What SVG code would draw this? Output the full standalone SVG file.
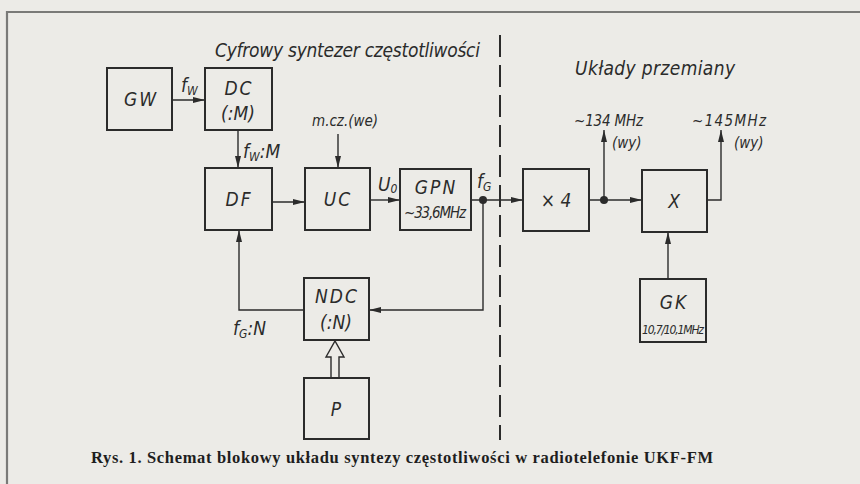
<svg xmlns="http://www.w3.org/2000/svg" width="860" height="484" viewBox="0 0 860 484">
<defs>
<style>
.bg{fill:#ecebe7}
.frame{fill:none;stroke:#7a7a78;stroke-width:2.2}
.box{fill:none;stroke:#2b2b2b;stroke-width:2}
.ln{fill:none;stroke:#2b2b2b;stroke-width:1.4}
.dash{fill:none;stroke:#2b2b2b;stroke-width:2;stroke-dasharray:22 8}
.t{font-family:"DejaVu Sans Condensed","DejaVu Sans",sans-serif;font-style:oblique;fill:#2b2b2b;font-size:19px}
.c{text-anchor:middle}
.sp{letter-spacing:2px}
.s{font-size:15px}
.xs{font-size:12px}
.sub{font-size:12px}
.cap{font-family:"Liberation Serif",serif;font-weight:bold;font-size:16.5px;fill:#1e1e1e}
</style>
<marker id="ah" viewBox="0 0 12 6" refX="12" refY="3" markerWidth="12" markerHeight="6" markerUnits="userSpaceOnUse" orient="auto">
<path d="M0,0 L12,3 L0,6 Z" fill="#2b2b2b"/>
</marker>
</defs>
<rect class="bg" x="0" y="0" width="860" height="484"/>
<path class="frame" d="M7,484 V12 H860"/>

<text class="t" x="215" y="57" font-size="19" textLength="265">Cyfrowy syntezer częstotliwości</text>
<text class="t" x="575" y="75" font-size="19" textLength="160">Układy przemiany</text>

<g id="connectors">
<line class="dash" x1="500" y1="35" x2="500" y2="440"/>
<line class="ln" x1="172" y1="100" x2="205" y2="100" marker-end="url(#ah)"/>
<line class="ln" x1="238" y1="130" x2="238" y2="168" marker-end="url(#ah)"/>
<line class="ln" x1="272" y1="202" x2="305" y2="202" marker-end="url(#ah)"/>
<line class="ln" x1="338" y1="134" x2="338" y2="168" marker-end="url(#ah)"/>
<line class="ln" x1="370" y1="200" x2="400" y2="200" marker-end="url(#ah)"/>
<line class="ln" x1="471" y1="200" x2="523" y2="200" marker-end="url(#ah)"/>
<circle cx="483" cy="200" r="4" fill="#2b2b2b"/>
<polyline class="ln" points="483,200 483,310 369,310" marker-end="url(#ah)"/>
<polyline class="ln" points="304,310 239,310 239,230" marker-end="url(#ah)"/>
<line class="ln" x1="589" y1="200" x2="642" y2="200" marker-end="url(#ah)"/>
<circle cx="604" cy="200" r="4" fill="#2b2b2b"/>
<line class="ln" x1="604" y1="200" x2="604" y2="130" marker-end="url(#ah)"/>
<polyline class="ln" points="707,200 721,200 721,130" marker-end="url(#ah)"/>
<line class="ln" x1="668" y1="279" x2="668" y2="232" marker-end="url(#ah)"/>
<path class="ln" d="M331,378 V357 H326 L335,341 L344,357 H339 V378" stroke-width="1.6"/>
</g>

<g id="GW"><rect class="box" x="107" y="68" width="65" height="62"/><text class="t c sp" x="141" y="106">GW</text></g>
<g id="DC"><rect class="box" x="205" y="68" width="67" height="62"/><text class="t c sp" x="239" y="95">DC</text><text class="t c" x="238" y="120">(:M)</text></g>
<g id="DF"><rect class="box" x="205" y="168" width="67" height="62"/><text class="t c sp" x="239" y="206">DF</text></g>
<g id="UC"><rect class="box" x="305" y="168" width="65" height="62"/><text class="t c sp" x="338" y="206">UC</text></g>
<g id="GPN"><rect class="box" x="400" y="169" width="71" height="61"/><text class="t c sp" x="436" y="194">GPN</text><text class="t c s" x="435" y="218" textLength="62">~33,6MHz</text></g>
<g id="NDC"><rect class="box" x="304" y="278" width="65" height="62"/><text class="t c sp" x="337" y="303">NDC</text><text class="t c" x="336" y="329">(:N)</text></g>
<g id="P"><rect class="box" x="304" y="378" width="65" height="61"/><text class="t c" x="336" y="416">P</text></g>
<g id="X4"><rect class="box" x="523" y="169" width="66" height="62"/><text class="t c" x="556" y="207">× 4</text></g>
<g id="X"><rect class="box" x="642" y="170" width="65" height="62"/><text class="t c" x="674" y="208">X</text></g>
<g id="GK"><rect class="box" x="640" y="279" width="66" height="63"/><text class="t c sp" x="674" y="309">GK</text><text class="t c xs" x="673" y="334" textLength="62">10,7/10,1MHz</text></g>

<g id="labels">
<text class="t" x="181" y="92">f<tspan class="sub" dy="3">W</tspan></text>
<text class="t" x="243" y="158">f<tspan class="sub" dy="3">W</tspan><tspan dy="-3">:M</tspan></text>
<text class="t s" x="312" y="126" textLength="66">m.cz.(we)</text>
<text class="t" x="378" y="191">U<tspan class="sub" dy="2">0</tspan></text>
<text class="t" x="477" y="188">f<tspan class="sub" dy="3">G</tspan></text>
<text class="t" x="233" y="335">f<tspan class="sub" dy="3">G</tspan><tspan dy="-3">:N</tspan></text>
<text class="t s" x="574" y="126" textLength="69">~134 MHz</text>
<text class="t s" x="612" y="148">(wy)</text>
<text class="t s" x="692" y="126" textLength="74">~145MHz</text>
<text class="t s" x="734" y="148">(wy)</text>
</g>

<text class="cap" x="91" y="463" textLength="622">Rys. 1. Schemat blokowy układu syntezy częstotliwości w radiotelefonie UKF-FM</text>
</svg>
